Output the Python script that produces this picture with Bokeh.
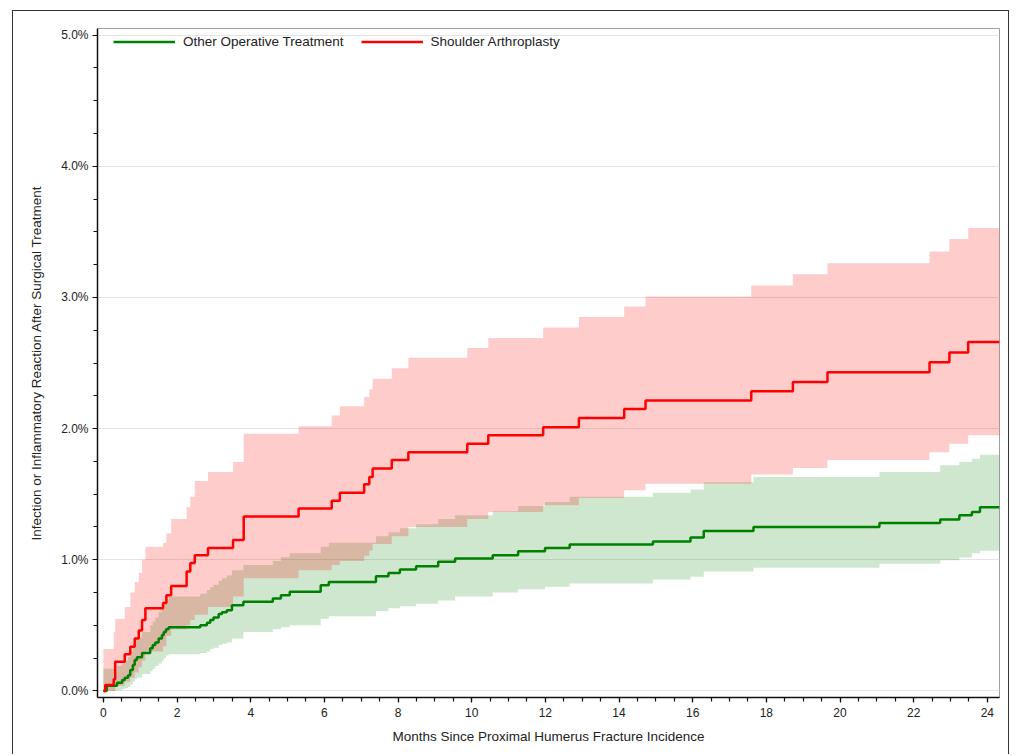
from bokeh.plotting import figure
from bokeh.models import (Range1d, FixedTicker, PrintfTickFormatter, Legend, LegendItem)
from bokeh.embed import file_html
from bokeh.resources import INLINE

# ---------------- data (months, cumulative incidence in %) ----------------
red_t = [0, 0.05, 0.28, 0.32, 0.58, 0.73, 0.85, 0.96, 1.05, 1.14,
         1.62, 1.71, 1.84, 2.26, 2.36, 2.48, 2.84, 3.52, 3.81, 5.30,
         6.20, 6.42, 7.08, 7.22, 7.31, 7.83, 8.28, 9.88, 10.45, 11.94,
         12.91, 14.14, 14.72, 17.59, 18.72, 19.66, 22.43, 22.97, 23.48, 24.33]
red_v = [0, 0.046, 0.09, 0.223, 0.28, 0.337, 0.40, 0.46, 0.54, 0.63,
         0.67, 0.73, 0.80, 0.91, 0.976, 1.035, 1.09, 1.15, 1.33, 1.39,
         1.45, 1.51, 1.575, 1.63, 1.695, 1.76, 1.82, 1.885, 1.95, 2.01,
         2.08, 2.15, 2.215, 2.285, 2.355, 2.43, 2.506, 2.58, 2.66, 2.66]
red_hi = [0.32, 0.32, 0.45, 0.55, 0.64, 0.75, 0.83, 0.90, 1.00, 1.10,
          1.13, 1.20, 1.31, 1.40, 1.48, 1.60, 1.67, 1.745, 1.96, 2.017,
          2.10, 2.17, 2.24, 2.30, 2.38, 2.46, 2.54, 2.615, 2.69, 2.77,
          2.85, 2.93, 3.006, 3.09, 3.176, 3.26, 3.35, 3.445, 3.53, 3.53]
red_lo = [0, 0, 0, 0.04, 0.07, 0.10, 0.14, 0.18, 0.23, 0.30,
          0.34, 0.42, 0.47, 0.50, 0.54, 0.58, 0.64, 0.72, 0.86, 0.92,
          0.96, 0.99, 1.03, 1.07, 1.12, 1.18, 1.25, 1.31, 1.365, 1.415,
          1.47, 1.53, 1.58, 1.65, 1.70, 1.76, 1.82, 1.885, 1.95, 1.95]

green_t = [0, 0.09, 0.37, 0.51, 0.58, 0.67, 0.73, 0.80, 0.85, 0.91,
           1.05, 1.27, 1.34, 1.41, 1.50, 1.59, 1.64, 1.70, 1.77, 2.63,
           2.81, 2.90, 2.99, 3.13, 3.22, 3.35, 3.49, 3.80, 4.60, 4.82,
           5.06, 5.90, 6.12, 7.40, 7.74, 8.05, 8.49, 9.09, 9.55, 10.57,
           11.26, 11.99, 12.66, 14.92, 15.94, 16.30, 17.65, 21.07, 22.72, 23.24,
           23.58, 23.80, 24.33]
green_v = [0, 0.04, 0.063, 0.084, 0.10, 0.12, 0.16, 0.198, 0.236, 0.256,
           0.29, 0.325, 0.35, 0.37, 0.40, 0.426, 0.45, 0.47, 0.485, 0.50,
           0.52, 0.54, 0.56, 0.586, 0.60, 0.616, 0.654, 0.68, 0.705, 0.73,
           0.756, 0.806, 0.83, 0.875, 0.90, 0.926, 0.951, 0.984, 1.01, 1.035,
           1.065, 1.09, 1.116, 1.14, 1.17, 1.22, 1.25, 1.28, 1.307, 1.34,
           1.364, 1.40, 1.40]
green_hi = [0.17, 0.17, 0.19, 0.21, 0.23, 0.26, 0.30, 0.35, 0.39, 0.41,
            0.45, 0.50, 0.53, 0.56, 0.60, 0.63, 0.66, 0.69, 0.72, 0.74,
            0.77, 0.79, 0.81, 0.84, 0.86, 0.88, 0.92, 0.96, 0.99, 1.02,
            1.05, 1.10, 1.13, 1.18, 1.21, 1.24, 1.27, 1.31, 1.34, 1.37,
            1.41, 1.44, 1.48, 1.51, 1.535, 1.59, 1.63, 1.67, 1.72, 1.745,
            1.77, 1.80, 1.80]
green_lo = [0, 0, 0.005, 0.015, 0.02, 0.03, 0.05, 0.07, 0.09, 0.10,
            0.13, 0.15, 0.17, 0.19, 0.21, 0.23, 0.25, 0.27, 0.28, 0.29,
            0.30, 0.32, 0.33, 0.35, 0.36, 0.37, 0.40, 0.45, 0.47, 0.485,
            0.50, 0.55, 0.57, 0.61, 0.63, 0.645, 0.665, 0.69, 0.72, 0.75,
            0.775, 0.795, 0.82, 0.85, 0.87, 0.91, 0.94, 0.97, 0.997, 1.017,
            1.05, 1.068, 1.068]

x_ticks = list(range(0, 25, 2))
x_minor = [i * 0.5 for i in range(0, 49)]
y_ticks = [0, 1, 2, 3, 4, 5]
y_minor = [i * 0.25 for i in range(0, 21)]

series_names = ["Other Operative Treatment", "Shoulder Arthroplasty"]
x_label = "Months Since Proximal Humerus Fracture Incidence"
y_label = "Infection or Inflammatory Reaction After Surgical Treatment"

FONT = "Liberation Sans"
GREEN = "#008000"
RED = "#ff0000"

# canvas placed at page (13.5, 11.5) after margin + 1.5px border
p = figure(width=997, height=744, output_backend="svg", toolbar_location=None,
           x_range=Range1d(-0.16, 24.33), y_range=Range1d(-0.05, 5.05),
           min_border_left=84, min_border_right=11, min_border_top=17,
           min_border_bottom=58)
p.margin = (10, 0, 0, 12)
p.styles = {"border-left": "1.5px solid #333333",
            "border-top": "1.5px solid #333333",
            "border-right": "1.5px solid #333333"}

p.outline_line_color = "#a0a0a0"
p.outline_line_width = 1
p.background_fill_color = "white"
p.border_fill_color = "white"

# bands
p.varea_step(x=green_t, y1=green_lo, y2=green_hi, step_mode="after",
             fill_color=GREEN, fill_alpha=0.19)
p.varea_step(x=red_t, y1=red_lo, y2=red_hi, step_mode="after",
             fill_color=RED, fill_alpha=0.2)

# lines
g_line = p.step(green_t, green_v, mode="after", line_color=GREEN, line_width=2.5)
r_line = p.step(red_t, red_v, mode="after", line_color=RED, line_width=2.5)

legend = Legend(items=[LegendItem(label=series_names[0], renderers=[g_line]),
                       LegendItem(label=series_names[1], renderers=[r_line])],
                orientation="horizontal", location=(16, 647),
                glyph_width=62, glyph_height=17, label_standoff=8, spacing=17,
                padding=0, margin=0, background_fill_alpha=0, border_line_alpha=0,
                label_text_font=FONT, label_text_font_size="13.5px",
                label_text_color="#222222", label_height=17)
p.add_layout(legend, "center")

# axes
p.xaxis.ticker = FixedTicker(ticks=x_ticks, minor_ticks=x_minor)
p.yaxis.ticker = FixedTicker(ticks=y_ticks, minor_ticks=y_minor)
p.yaxis.formatter = PrintfTickFormatter(format="%.1f%%")
for ax in (p.xaxis[0], p.yaxis[0]):
    ax.axis_line_color = "#111111"
    ax.axis_line_width = 1.5
    ax.major_tick_line_color = "#111111"
    ax.minor_tick_line_color = "#111111"
    ax.major_tick_line_width = 1.2
    ax.minor_tick_line_width = 1.2
    ax.major_tick_in = 0
    ax.minor_tick_in = 0
    ax.major_tick_out = 5
    ax.minor_tick_out = 4
    ax.major_label_text_font = FONT
    ax.major_label_text_font_size = "12px"
    ax.major_label_text_color = "#222222"
    ax.axis_label_text_font = FONT
    ax.axis_label_text_font_size = "13.5px"
    ax.axis_label_text_font_style = "normal"
    ax.axis_label_text_color = "#222222"
p.xaxis.axis_label = x_label
p.yaxis.axis_label = y_label
p.xaxis.major_label_standoff = 5
p.xaxis.axis_label_standoff = 9
p.yaxis.major_label_standoff = 4
p.yaxis.axis_label_standoff = 14

p.xgrid.visible = False
p.ygrid.grid_line_color = "#e4e4e4"
p.ygrid.grid_line_width = 1

open("out.html", "w").write(file_html(p, INLINE))
